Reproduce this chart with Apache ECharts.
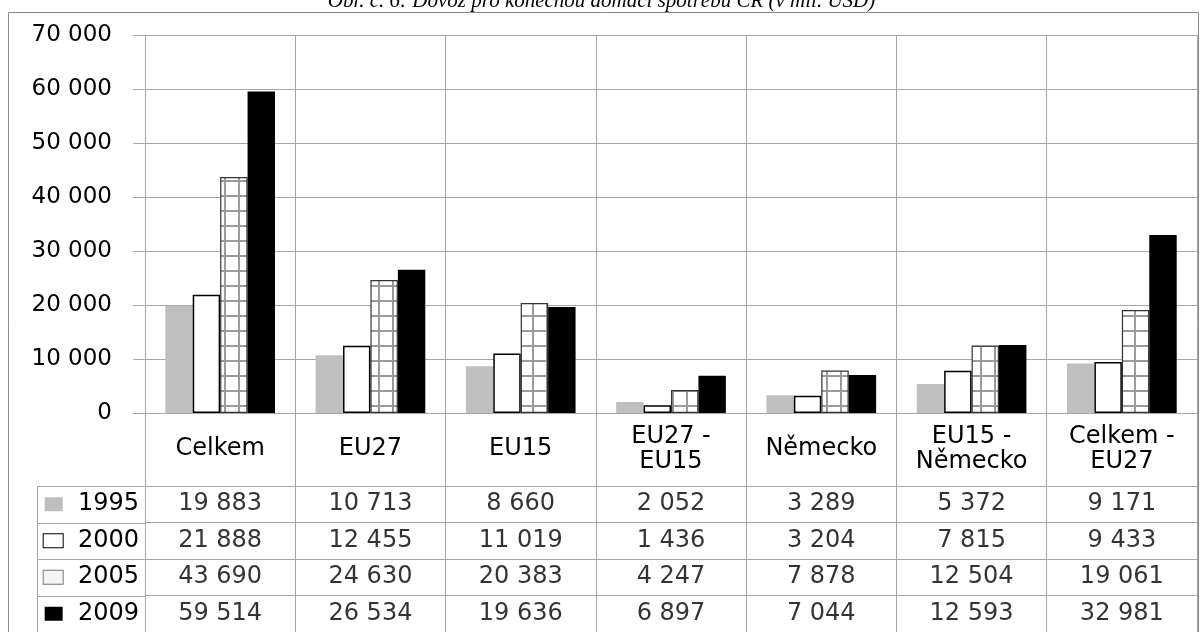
<!DOCTYPE html>
<html>
<head>
<meta charset="utf-8">
<script src="https://cdn.jsdelivr.net/npm/echarts@6/dist/echarts.min.js"></script>
<style>
  html, body { margin: 0; padding: 0; background: #fff; }
  #main { width: 1203px; height: 632px; }
</style>
</head>
<body>
<div id="main"></div>
<script>
// data (mil. USD)
const categories = ['Celkem', 'EU27', 'EU15', 'EU27 -\nEU15', 'Německo', 'EU15 -\nNěmecko', 'Celkem -\nEU27'];
const years = ['1995', '2000', '2005', '2009'];
const v1995 = [19883, 10713, 8660, 2052, 3289, 5372, 9171];
const v2000 = [21888, 12455, 11019, 1436, 3204, 7815, 9433];
const v2005 = [43690, 24630, 20383, 4247, 7878, 12504, 19061];
const v2009 = [59514, 26534, 19636, 6897, 7044, 12593, 32981];
const yTicks = [0, 10000, 20000, 30000, 40000, 50000, 60000, 70000];

const FONT = 'DejaVu Sans';
const LINE = '#a6a6a6';
const TABLE_LEFT = 37;

// cislo s mezerou jako oddelovacem tisicu
function fmt(v) {
  return String(v).replace(/\B(?=(\d{3})+(?!\d))/g, ' ');
}

// mrizkova vypln pro rok 2005
const pat = document.createElement('canvas');
pat.width = 14; pat.height = 15;
const ctx = pat.getContext('2d');
ctx.fillStyle = '#fff';
ctx.fillRect(0, 0, 14, 15);
ctx.fillStyle = '#9a9a9a';
ctx.fillRect(0, 0, 14, 2);
ctx.fillRect(0, 0, 2, 15);

const myChart = echarts.init(document.getElementById('main'));

const rows = [v1995, v2000, v2005, v2009];
const cells = [];
rows.forEach((arr, r) => {
  arr.forEach((v, c) => cells.push([c, r + 2.5, v]));
});

const barBase = { type: 'bar', xAxisIndex: 0, yAxisIndex: 0, barGap: '0%', barCategoryGap: '27%', silent: true };

myChart.setOption({
  animation: false,
  title: {
    text: 'Obr. č. 6: Dovoz pro konečnou domácí spotřebu ČR (v mil. USD)',
    left: 'center',
    top: -14,
    textStyle: { fontFamily: 'Liberation Serif', fontStyle: 'italic', fontWeight: 'normal', fontSize: 21, color: '#000' }
  },
  grid: [
    { left: 145, right: 6, top: 35, height: 378, outerBoundsMode: 'none' },
    { left: 145, right: 6, top: 413, height: 219, outerBoundsMode: 'none' }
  ],
  xAxis: [
    {
      gridIndex: 0, type: 'category', data: categories,
      axisLine: { lineStyle: { color: LINE } },
      axisTick: { show: false },
      axisLabel: { interval: 0, margin: 36, verticalAlign: 'middle', lineHeight: 25, fontSize: 24, fontFamily: FONT, color: '#000' },
      splitLine: { show: true, interval: 0, lineStyle: { color: LINE } }
    },
    {
      gridIndex: 1, type: 'category', data: categories,
      axisLine: { show: false }, axisTick: { show: false }, axisLabel: { show: false },
      splitLine: { show: true, interval: 0, lineStyle: { color: LINE } }
    }
  ],
  yAxis: [
    {
      gridIndex: 0, type: 'value', position: 'left', min: 0, max: 70000, interval: 10000,
      axisLine: { show: true, lineStyle: { color: LINE } },
      axisTick: { show: true, length: 12, lineStyle: { color: LINE } },
      axisLabel: { margin: 33, fontSize: 23, fontFamily: FONT, color: '#000', formatter: v => yTicks.includes(v) ? fmt(v) : '' },
      splitLine: { lineStyle: { color: LINE } }
    },
    {
      gridIndex: 1, type: 'value', position: 'left', min: 0, max: 6, interval: 1, inverse: true,
      axisLine: { show: true, lineStyle: { color: LINE } },
      axisTick: { show: false }, axisLabel: { show: false },
      splitLine: { show: true, lineStyle: { color: [LINE, 'rgba(0,0,0,0)', LINE, LINE, LINE, LINE, LINE] } }
    },
    {
      gridIndex: 1, type: 'category', position: 'left', data: ['', ''].concat(years), inverse: true,
      axisLine: { show: false }, axisTick: { show: false }, splitLine: { show: false },
      axisLabel: {
        margin: 6, fontSize: 24, fontFamily: FONT, color: '#000',
        formatter: (v, i) => v ? '{' + 'abcd'[i - 2] + '|}  ' + v : '',
        rich: {
          a: { width: 18, height: 14, backgroundColor: '#bfbfbf' },
          b: { width: 19, height: 13, backgroundColor: '#fff', borderColor: '#000', borderWidth: 1 },
          c: { width: 19, height: 13, backgroundColor: '#f4f4f4', borderColor: '#777', borderWidth: 1 },
          d: { width: 18, height: 14, backgroundColor: '#000' }
        }
      }
    }
  ],
  series: [
    Object.assign({ name: years[0], data: v1995, itemStyle: { color: '#bfbfbf' } }, barBase),
    Object.assign({ name: years[1], data: v2000, itemStyle: { color: '#fff', borderColor: '#000', borderWidth: 1.5 } }, barBase),
    Object.assign({ name: years[2], data: v2005, itemStyle: { color: { image: pat, repeat: 'repeat' }, borderColor: '#333', borderWidth: 1.2 } }, barBase),
    Object.assign({ name: years[3], data: v2009, itemStyle: { color: '#000' } }, barBase),
    {
      type: 'scatter', xAxisIndex: 1, yAxisIndex: 1, data: cells, symbolSize: 0, silent: true,
      label: { show: true, position: 'inside', formatter: p => fmt(p.value[2]), fontSize: 24, fontFamily: FONT, color: '#000' }
    }
  ]
});

// ramecek a sloupec s popisky radku tabulky
const yb = [2, 3, 4, 5, 6].map(v => myChart.convertToPixel({ yAxisIndex: 1 }, v));
const left = 145;
const graphic = [
  { type: 'rect', shape: { x: 8.5, y: 12.5, width: 1190, height: 700 }, style: { fill: 'none', stroke: '#8c8c8c', lineWidth: 1 }, silent: true },
  { type: 'line', shape: { x1: TABLE_LEFT + 0.5, y1: yb[0], x2: TABLE_LEFT + 0.5, y2: yb[4] }, style: { stroke: LINE, lineWidth: 1 }, silent: true }
];
yb.forEach(y => {
  graphic.push({ type: 'line', shape: { x1: TABLE_LEFT, y1: Math.round(y) + 0.5, x2: left, y2: Math.round(y) + 0.5 }, style: { stroke: LINE, lineWidth: 1 }, silent: true });
});
myChart.setOption({ graphic: graphic });
</script>
</body>
</html>
